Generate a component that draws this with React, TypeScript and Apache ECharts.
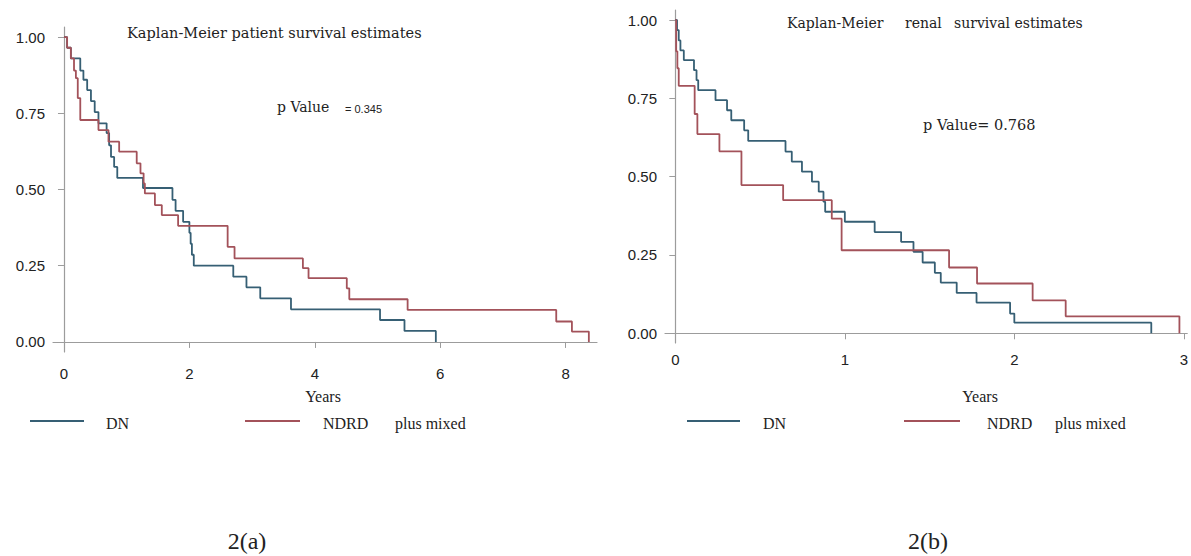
import React, { useEffect, useRef } from "react";
import * as echarts from "echarts";

// Kaplan-Meier patient survival (panel a): [years, survival]
const patientDN: [number, number][] = [
  [0, 1], [0.05, 0.965], [0.11, 0.93], [0.26, 0.89], [0.31, 0.86], [0.37, 0.826],
  [0.43, 0.79], [0.49, 0.754], [0.55, 0.717], [0.68, 0.685], [0.72, 0.645],
  [0.75, 0.607], [0.8, 0.574], [0.85, 0.538], [1.26, 0.505], [1.73, 0.466],
  [1.78, 0.43], [1.9, 0.394], [2.0, 0.358], [2.02, 0.322], [2.04, 0.286],
  [2.07, 0.25], [2.7, 0.214], [2.91, 0.179], [3.13, 0.143], [3.62, 0.107],
  [5.04, 0.072], [5.43, 0.036], [5.93, 0],
];
const patientNDRD: [number, number][] = [
  [0, 1], [0.05, 0.965], [0.11, 0.93], [0.16, 0.89], [0.19, 0.865], [0.22, 0.8],
  [0.26, 0.728], [0.55, 0.695], [0.71, 0.657], [0.88, 0.624], [1.16, 0.586],
  [1.22, 0.553], [1.27, 0.52], [1.29, 0.487], [1.45, 0.449], [1.56, 0.416],
  [1.82, 0.381], [2.61, 0.312], [2.72, 0.274], [3.81, 0.242], [3.9, 0.209],
  [4.51, 0.176], [4.55, 0.14], [5.48, 0.105], [7.85, 0.067], [8.1, 0.034], [8.37, 0],
];

// Kaplan-Meier renal survival (panel b)
const renalDN: [number, number][] = [
  [0, 1], [0.01, 0.968], [0.02, 0.935], [0.03, 0.903], [0.05, 0.872], [0.11, 0.84],
  [0.125, 0.808], [0.135, 0.776], [0.237, 0.744], [0.305, 0.712], [0.33, 0.68],
  [0.406, 0.648], [0.43, 0.614], [0.65, 0.58], [0.687, 0.548], [0.747, 0.516],
  [0.806, 0.484], [0.846, 0.452], [0.874, 0.42], [0.884, 0.388], [1.0, 0.356],
  [1.176, 0.323], [1.332, 0.292], [1.405, 0.26], [1.459, 0.226], [1.531, 0.193],
  [1.566, 0.162], [1.66, 0.129], [1.777, 0.098], [1.975, 0.063], [2.0, 0.034],
  [2.808, 0],
];
const renalNDRD: [number, number][] = [
  [0, 1], [0.005, 0.9], [0.012, 0.846], [0.02, 0.79], [0.114, 0.7], [0.13, 0.636],
  [0.26, 0.581], [0.39, 0.473], [0.636, 0.425], [0.923, 0.366], [0.981, 0.265],
  [1.615, 0.21], [1.78, 0.159], [2.108, 0.105], [2.303, 0.054], [2.974, 0],
];

const xTicksA = [0, 2, 4, 6, 8];
const xTicksB = [0, 1, 2, 3];
const yTicks = [0, 0.25, 0.5, 0.75, 1];

const BLUE = "#365f74";
const RED = "#a3525a";
const AXIS = "#9c9c9c";
const SERIF = "'DejaVu Serif', serif";
const TSERIF = "'Liberation Serif', serif";
const SANS = "'Liberation Sans', Arial, sans-serif";

function xAxisCfg(grid: number, min: number, max: number, ticks: number[], margin: number) {
  return {
    type: "value" as const,
    gridIndex: grid,
    min,
    max,
    axisLine: { show: true, lineStyle: { color: AXIS, width: 1.2 } },
    axisTick: { show: true, length: 6, customValues: ticks, lineStyle: { color: AXIS } },
    axisLabel: {
      customValues: ticks,
      margin,
      fontSize: 15,
      color: "#222",
      fontFamily: SANS,
      formatter: (v: number) => String(v),
    },
    splitLine: { show: false },
  };
}
function yAxisCfg(grid: number, min: number, max: number) {
  return {
    type: "value" as const,
    gridIndex: grid,
    min,
    max,
    axisLine: { show: true, lineStyle: { color: AXIS, width: 1.2 } },
    axisTick: { show: true, length: 6, customValues: yTicks, lineStyle: { color: AXIS } },
    axisLabel: {
      customValues: yTicks,
      margin: 8,
      fontSize: 15,
      color: "#222",
      fontFamily: SANS,
      formatter: (v: number) => v.toFixed(2),
    },
    splitLine: { show: false },
  };
}
function km(name: string, data: [number, number][], color: string, idx: number) {
  return {
    name,
    type: "line" as const,
    xAxisIndex: idx,
    yAxisIndex: idx,
    data,
    step: "end" as const,
    showSymbol: false,
    symbol: "none",
    lineStyle: { color, width: 1.8 },
    itemStyle: { color },
  };
}
function txt(text: string, x: number, y: number, font: string, align: string = "left", extra: any = {}) {
  return {
    type: "text",
    x,
    y,
    ...extra,
    style: { text, font, fill: "#222", textAlign: align, textVerticalAlign: "middle" },
  };
}
function seg(x1: number, x2: number, y: number, color: string) {
  return { type: "line", shape: { x1, y1: y, x2, y2: y }, style: { stroke: color, lineWidth: 1.8 } };
}

export default function App() {
  const ref = useRef<HTMLDivElement>(null);
  useEffect(() => {
    if (!ref.current) return;
    const chart = echarts.init(ref.current, undefined, { renderer: "svg" });
    chart.setOption({
      animation: false,
      backgroundColor: "#fff",
      grid: [
        { left: 53, top: 27, width: 544, height: 325 },
        { left: 665, top: 10, width: 527, height: 333 },
      ],
      xAxis: [
        xAxisCfg(0, -0.175, 8.5, xTicksA, 14),
        xAxisCfg(1, -0.061, 3.02, xTicksB, 9),
      ],
      yAxis: [yAxisCfg(0, -0.033, 1.033), yAxisCfg(1, -0.031, 1.032)],
      series: [
        km("DN", patientDN, BLUE, 0),
        km("NDRD plus mixed", patientNDRD, RED, 0),
        km("DN", renalDN, BLUE, 1),
        km("NDRD plus mixed", renalNDRD, RED, 1),
      ],
      graphic: [
        txt("Kaplan-Meier patient survival estimates", 127, 33, `14.5px ${SERIF}`),
        txt("p Value", 277, 107, `14px ${SERIF}`),
        txt("= 0.345", 345, 109, `11px ${SANS}`),
        txt("Kaplan-Meier", 787, 23, `14px ${SERIF}`),
        txt("renal", 905, 23, `14px ${SERIF}`),
        txt("survival estimates", 954, 23, `14px ${SERIF}`),
        txt("p Value= 0.768", 923, 125, `14.5px ${SERIF}`),
        txt("Years", 323, 396, `16px ${TSERIF}`, "center"),
        txt("Years", 980, 396, `16px ${TSERIF}`, "center"),
        seg(30, 84, 421, BLUE),
        txt("DN", 106, 423, `16px ${TSERIF}`),
        seg(245, 300, 421, RED),
        txt("NDRD", 323, 423, `16px ${TSERIF}`),
        txt("plus mixed", 395, 423, `16px ${TSERIF}`),
        seg(687, 740, 421, BLUE),
        txt("DN", 763, 423, `16px ${TSERIF}`),
        seg(904, 960, 421, RED),
        txt("NDRD", 987, 423, `16px ${TSERIF}`),
        txt("plus mixed", 1055, 423, `16px ${TSERIF}`),
        txt("2(a)", 247, 541, `24px ${TSERIF}`, "center"),
        txt("2(b)", 928, 541, `24px ${TSERIF}`, "center"),
      ],
    });
    return () => chart.dispose();
  }, []);
  return (
    <div
      ref={ref}
      style={{ position: "fixed", left: 0, top: 0, width: 1191, height: 556, background: "#fff" }}
    />
  );
}
